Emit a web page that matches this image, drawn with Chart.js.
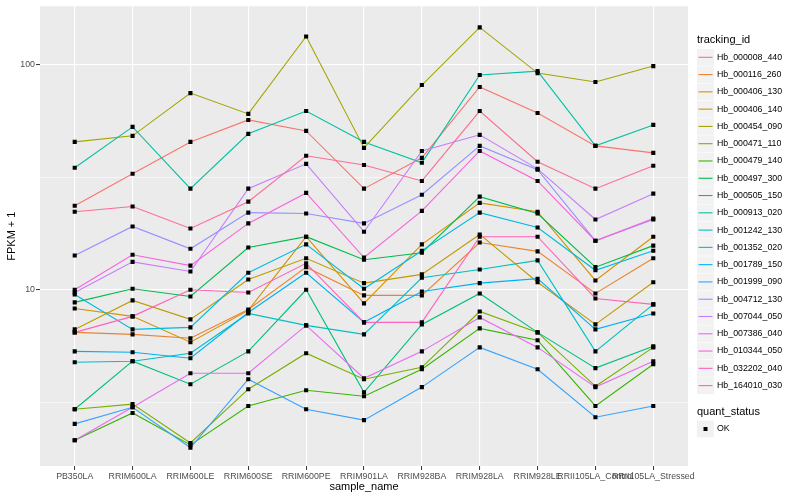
<!DOCTYPE html>
<html><head><meta charset="utf-8">
<script src="https://cdn.jsdelivr.net/npm/chart.js@4.4.1/dist/chart.umd.min.js"></script>
<style>html,body{margin:0;padding:0;background:#fff}#wrap{width:800px;height:500px;position:relative}</style>
</head><body><div id="wrap"><canvas id="c" width="800" height="500"></canvas></div>
<script>
const categories = ["PB350LA","RRIM600LA","RRIM600LE","RRIM600SE","RRIM600PE","RRIM901LA","RRIM928BA","RRIM928LA","RRIM928LE","RRII105LA_Control","RRII105LA_Stressed"];
const trackingIds = ["Hb_000008_440","Hb_000116_260","Hb_000406_130","Hb_000406_140","Hb_000454_090","Hb_000471_110","Hb_000479_140","Hb_000497_300","Hb_000505_150","Hb_000913_020","Hb_001242_130","Hb_001352_020","Hb_001789_150","Hb_001999_090","Hb_004712_130","Hb_007044_050","Hb_007386_040","Hb_010344_050","Hb_032202_040","Hb_164010_030"];
const seriesColors = ["#F8766D","#EA8331","#D89000","#C09B00","#A3A500","#7CAE00","#39B600","#00BB4E","#00BF7D","#00C1A3","#00BFC4","#00BAE0","#00B0F6","#35A2FF","#9590FF","#C77CFF","#E76BF3","#FA62DB","#FF62BC","#FF6C91"];
const yMajorTicks = [10, 100];
const yMinorTicks = [3.1623, 31.623];

const Hb_000008_440 = [23.6, 32.7, 45.3, 56.7, 50.7, 28.1, 38.5, 79.4, 60.9, 43.5, 40.5];
const Hb_000116_260 = [6.47, 6.34, 6.09, 8.18, 12.6, 9.44, 9.44, 16.2, 14.8, 9.63, 13.8];
const Hb_000406_130 = [8.26, 7.62, 5.85, 8.1, 17.2, 8.70, 15.9, 24.3, 22.2, 11.0, 17.2];
const Hb_000406_140 = [6.67, 8.97, 7.39, 11.1, 13.8, 10.7, 11.7, 17.6, 10.8, 7.02, 10.8];
const Hb_000454_090 = [45.3, 48.2, 74.6, 60.3, 133, 42.6, 81.0, 146, 91.5, 83.5, 98.3];
const Hb_000471_110 = [2.95, 3.11, 2.09, 3.62, 5.23, 4.01, 4.53, 8.01, 6.47, 3.73, 5.55];
const Hb_000479_140 = [2.15, 2.84, 2.05, 3.05, 3.58, 3.37, 4.44, 6.74, 5.97, 3.05, 4.67];
const Hb_000497_300 = [8.79, 10.1, 9.34, 15.4, 17.2, 13.6, 14.6, 25.9, 21.8, 12.6, 15.7];
const Hb_000505_150 = [2.95, 4.82, 3.81, 5.33, 10.0, 3.51, 7.02, 9.63, 6.47, 4.49, 5.61];
const Hb_000913_020 = [34.8, 52.8, 28.1, 49.2, 62.1, 45.3, 36.6, 89.7, 93.4, 43.5, 53.9];
const Hb_001242_130 = [4.77, 4.82, 5.23, 7.85, 6.95, 6.34, 11.3, 12.3, 13.5, 5.33, 8.61];
const Hb_001352_020 = [9.53, 6.67, 6.81, 11.9, 15.9, 10.1, 14.9, 22.0, 18.9, 12.2, 14.9];
const Hb_001789_150 = [5.33, 5.28, 4.97, 7.93, 11.9, 7.17, 9.83, 10.7, 11.2, 6.67, 7.85];
const Hb_001999_090 = [2.54, 3.01, 1.99, 4.01, 2.95, 2.64, 3.70, 5.55, 4.44, 2.72, 3.05];
const Hb_004712_130 = [14.2, 19.1, 15.2, 22.0, 21.8, 19.7, 26.4, 43.5, 34.1, 16.5, 20.5];
const Hb_007044_050 = [9.73, 13.3, 12.05, 28.1, 36.2, 18.1, 41.3, 48.7, 34.4, 20.5, 26.7];
const Hb_007386_040 = [2.15, 3.01, 4.26, 4.26, 6.95, 4.05, 5.33, 7.54, 5.55, 3.70, 4.82];
const Hb_010344_050 = [10.0, 14.3, 12.8, 19.7, 26.9, 13.9, 22.4, 41.3, 30.4, 16.5, 20.7];
const Hb_032202_040 = [6.47, 7.62, 10.0, 9.73, 13.1, 7.17, 7.17, 17.2, 17.2, 9.15, 8.61];
const Hb_164010_030 = [22.2, 23.4, 18.7, 24.6, 39.3, 35.8, 30.4, 62.1, 37.0, 28.1, 35.5];

const seriesValues = [Hb_000008_440, Hb_000116_260, Hb_000406_130, Hb_000406_140, Hb_000454_090, Hb_000471_110, Hb_000479_140, Hb_000497_300, Hb_000505_150, Hb_000913_020, Hb_001242_130, Hb_001352_020, Hb_001789_150, Hb_001999_090, Hb_004712_130, Hb_007044_050, Hb_007386_040, Hb_010344_050, Hb_032202_040, Hb_164010_030];

const FONT = '"Liberation Sans", Arial, sans-serif';

const datasets = trackingIds.map((id, i) => ({
  type: 'line', label: id,
  data: seriesValues[i].map((v, j) => ({x: j, y: v})),
  borderColor: seriesColors[i], backgroundColor: seriesColors[i],
  borderWidth: 1.1, pointRadius: 0, fill: false, tension: 0, order: 100 - i
}));
const allPoints = [];
seriesValues.forEach(vals => vals.forEach((v, j) => allPoints.push({x: j, y: v})));
datasets.push({type: 'scatter', label: 'OK', data: allPoints, pointStyle: 'rect', pointRadius: 2.9,
  backgroundColor: '#000000', borderWidth: 0, order: 0});

const ggLegend = {
  id: 'ggLegend',
  afterDraw(chart) {
    const ctx = chart.ctx;
    ctx.save();
    ctx.textBaseline = 'middle';
    ctx.textAlign = 'left';
    ctx.fillStyle = '#000';
    ctx.font = '11px ' + FONT;
    ctx.fillText('tracking_id', 697, 40);
    trackingIds.forEach((id, i) => {
      const cy = 57.3 + i * 17.28;
      ctx.fillStyle = '#F2F2F2';
      ctx.fillRect(697, cy - 8.4, 17, 16.8);
      ctx.strokeStyle = seriesColors[i];
      ctx.lineWidth = 1.1;
      ctx.beginPath(); ctx.moveTo(698.5, cy); ctx.lineTo(712.5, cy); ctx.stroke();
      ctx.fillStyle = '#000';
      ctx.font = '8.8px ' + FONT;
      ctx.fillText(id, 717, cy);
    });
    ctx.font = '11px ' + FONT;
    ctx.fillText('quant_status', 697, 412);
    ctx.fillStyle = '#F2F2F2';
    ctx.fillRect(697, 429 - 8.4, 17, 16.8);
    ctx.fillStyle = '#000';
    ctx.fillRect(703.5, 427, 4, 4);
    ctx.font = '8.8px ' + FONT;
    ctx.fillText('OK', 717, 429);
    ctx.restore();
  }
};

const bgPlugin = {
  id: 'panelBg',
  beforeDraw(chart) {
    const {ctx, chartArea: a} = chart;
    ctx.save();
    ctx.fillStyle = '#FFFFFF';
    ctx.fillRect(0, 0, chart.width, chart.height);
    ctx.fillStyle = '#EBEBEB';
    ctx.fillRect(a.left, a.top, a.right - a.left, a.bottom - a.top);
    ctx.restore();
  }
};

const isMajor = v => yMajorTicks.some(t => Math.abs(t - v) < 1e-6);

new Chart(document.getElementById('c'), {
  data: {datasets},
  plugins: [bgPlugin, ggLegend],
  options: {
    responsive: false, animation: false,
    layout: {padding: {left: 0, right: 112, top: 5, bottom: 0}},
    plugins: {legend: {display: false}, tooltip: {enabled: false}},
    scales: {
      x: {
        type: 'linear', min: -0.6, max: 10.6,
        afterBuildTicks: s => { s.ticks = categories.map((c, i) => ({value: i})); },
        afterFit: s => { s.height = 34; },
        ticks: {autoSkip: false, maxRotation: 0, minRotation: 0, padding: 1, color: '#4D4D4D',
          font: {family: FONT, size: 8.8},
          callback: v => categories[v]},
        grid: {color: '#FFFFFF', lineWidth: 1.1, tickLength: 4, tickColor: '#333333', tickWidth: 1},
        border: {display: false},
        title: {display: true, text: 'sample_name', color: '#000', font: {family: FONT, size: 11}, padding: {top: 0, bottom: 6.4}}
      },
      y: {
        type: 'logarithmic', min: 1.652, max: 181.1,
        afterBuildTicks: s => { s.ticks = yMinorTicks.concat(yMajorTicks).sort((a, b) => a - b).map(v => ({value: v})); },
        afterFit: s => { s.width = 40; },
        ticks: {padding: 1, color: '#4D4D4D', font: {family: FONT, size: 8.8},
          callback: v => isMajor(v) ? String(v) : ''},
        grid: {color: '#FFFFFF',
          lineWidth: c => (c.tick && isMajor(c.tick.value)) ? 1.1 : 0.55,
          tickLength: 4,
          tickColor: c => (c.tick && isMajor(c.tick.value)) ? '#333333' : 'rgba(0,0,0,0)', tickWidth: 1},
        border: {display: false},
        title: {display: true, text: 'FPKM + 1', color: '#000', font: {family: FONT, size: 11}, padding: {top: 5.4, bottom: 0}}
      }
    }
  }
});
</script></body></html>
